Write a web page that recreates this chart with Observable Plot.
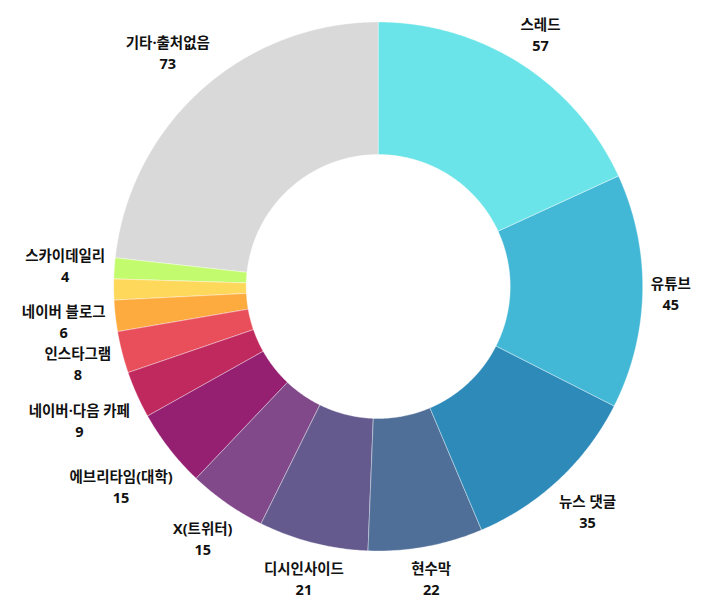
<!DOCTYPE html>
<html>
<head>
<meta charset="utf-8">
<script src="https://cdn.jsdelivr.net/npm/d3@7"></script>
<script src="https://cdn.jsdelivr.net/npm/@observablehq/plot@0.6"></script>
<style>
  html, body { margin: 0; padding: 0; background: #ffffff; }
  #chart { width: 710px; height: 609px; }
</style>
</head>
<body>
<div id="chart"></div>
<script>
// ---- data ----
const categories = ["스레드", "유튜브", "뉴스 댓글", "현수막", "디시인사이드", "X(트위터)",
  "에브리타임(대학)", "네이버·다음 카페", "인스타그램", "네이버 블로그", "", "스카이데일리", "기타·출처없음"];
const values = [57, 45, 35, 22, 21, 15, 15, 9, 8, 6, 4, 4, 73];
const colors = ["#6ae4e8", "#43b8d6", "#2e8ab9", "#4f6e98", "#645a8e", "#81488a",
  "#952071", "#c0295e", "#e84f5a", "#fdab3e", "#fdd85b", "#c2fb6e", "#d9d9d9"];

// ---- layout ----
const W = 710, H = 609;
const CX = 377.7, CY = 286;
const R_OUT = 264.5, R_IN = 132;
const R_LABEL = 273;      // nearest corner of each label box sits on this circle
const FONT = "'Open Sans', 'Noto Sans CJK KR', sans-serif";
const FONT_SIZE = 14.5;
const BOX_H = 40;

const idx = d3.range(values.length);
const arcs = d3.pie().sort(null).value(i => values[i]).startAngle(0).endAngle(2 * Math.PI)(idx);

// polygon points for each slice
const pts = [];
for (const a of arcs) {
  const i = a.data;
  const n = Math.max(2, Math.ceil((a.endAngle - a.startAngle) / (Math.PI / 360)));
  for (let k = 0; k <= n; k++) {
    const t = a.startAngle + (a.endAngle - a.startAngle) * k / n;
    pts.push({i, x: CX + R_OUT * Math.sin(t), y: CY - R_OUT * Math.cos(t)});
  }
  for (let k = n; k >= 0; k--) {
    const t = a.startAngle + (a.endAngle - a.startAngle) * k / n;
    pts.push({i, x: CX + R_IN * Math.sin(t), y: CY - R_IN * Math.cos(t)});
  }
}

// label positions
const ctx = document.createElement("canvas").getContext("2d");
ctx.font = `bold ${FONT_SIZE}px ${FONT}`;
const labels = [];
for (const a of arcs) {
  const i = a.data;
  if (!categories[i]) continue;
  const th = (a.startAngle + a.endAngle) / 2;
  const ux = Math.sin(th), uy = -Math.cos(th);
  const w = Math.max(ctx.measureText(categories[i]).width, ctx.measureText(String(values[i])).width);
  const ax = Math.sign(ux) * w / 2, by = Math.sign(uy) * BOX_H / 2;
  const p = ux * ax + uy * by;
  const q = ax * ax + by * by - R_LABEL * R_LABEL;
  const d = p + Math.sqrt(p * p - q);
  labels.push({i, x: CX + d * ux, y: CY + d * uy, text: categories[i] + "\n" + values[i]});
}

const chart = Plot.plot({
  width: W,
  height: H,
  margin: 0,
  style: {fontFamily: FONT, background: "#ffffff"},
  x: {domain: [0, W], range: [0, W], axis: null},
  y: {domain: [0, H], range: [0, H], axis: null},
  color: {type: "ordinal", domain: idx, range: colors},
  marks: [
    Plot.line(pts, {x: "x", y: "y", z: "i", fill: "i", stroke: "#ffffff", strokeWidth: 0.6, strokeOpacity: 0.6, curve: "linear-closed"}),
    Plot.text(labels, {x: "x", y: "y", text: "text", fontSize: FONT_SIZE, fontWeight: "bold", fill: "#111111",
      textAnchor: "middle", lineAnchor: "middle", lineHeight: 1.45})
  ]
});
document.getElementById("chart").appendChild(chart);
</script>
</body>
</html>
